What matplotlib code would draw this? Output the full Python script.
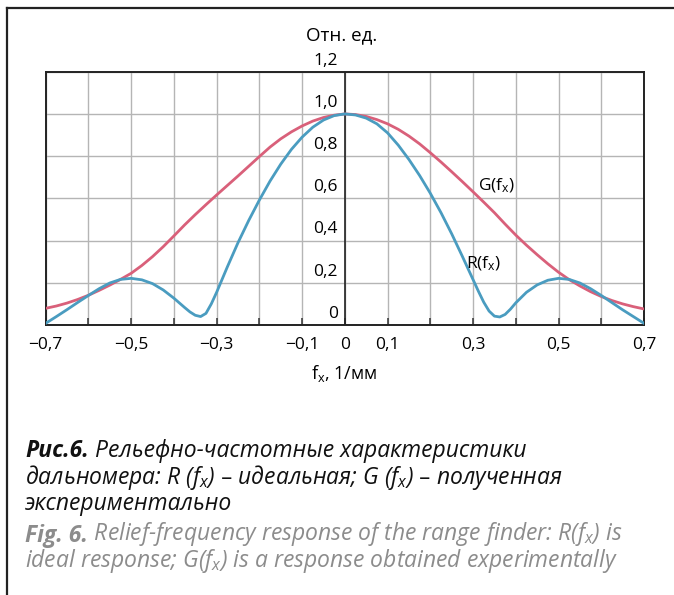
import numpy as np
import matplotlib
matplotlib.use("Agg")
import matplotlib.pyplot as plt
from matplotlib.lines import Line2D
from matplotlib.text import Annotation

plt.rcParams['font.family'] = ['Open Sans', 'DejaVu Sans']
plt.rcParams['mathtext.default'] = 'regular'

# ---- data ----
fx_G = [round(-0.7 + 0.025 * i, 4) for i in range(57)]
G = [0.079, 0.090, 0.104, 0.121, 0.141, 0.164, 0.189, 0.216, 0.245,
     0.282, 0.324, 0.371, 0.422, 0.474, 0.523, 0.570, 0.616, 0.661,
     0.706, 0.752, 0.798, 0.843, 0.882, 0.915, 0.943, 0.966, 0.983,
     0.994, 1.000,
     0.997, 0.988, 0.973, 0.953, 0.927, 0.895, 0.858, 0.816,
     0.772, 0.726, 0.679, 0.631, 0.582, 0.532, 0.478, 0.426, 0.378,
     0.333, 0.290, 0.250, 0.215, 0.185, 0.158, 0.135, 0.116, 0.100,
     0.087, 0.076]

fx_R = [-0.7, -0.675, -0.65, -0.625, -0.6, -0.575, -0.55, -0.525, -0.5,
        -0.475, -0.45, -0.425, -0.4, -0.3875, -0.375, -0.3625, -0.35, -0.3375,
        -0.325, -0.3125, -0.3, -0.275, -0.25, -0.225, -0.2, -0.175, -0.15,
        -0.125, -0.1, -0.075, -0.05, -0.025, 0.0,
        0.025, 0.05, 0.075, 0.1, 0.125, 0.15, 0.175, 0.2, 0.225, 0.25, 0.275,
        0.3, 0.3125, 0.325, 0.3375, 0.35, 0.3625, 0.375, 0.3875, 0.4, 0.425,
        0.45, 0.475, 0.5, 0.525, 0.55, 0.575, 0.6, 0.625, 0.65, 0.675, 0.7]
R = [0.008, 0.040, 0.073, 0.107, 0.140, 0.172, 0.199, 0.216, 0.221,
     0.214, 0.196, 0.166, 0.127, 0.105, 0.083, 0.062, 0.046, 0.040,
     0.055, 0.100, 0.155, 0.275, 0.390, 0.495, 0.592, 0.682, 0.762,
     0.832, 0.890, 0.937, 0.971, 0.992, 1.000,
     0.995, 0.980, 0.953, 0.910, 0.852, 0.784, 0.708, 0.624, 0.532, 0.432, 0.325,
     0.215, 0.160, 0.108, 0.066, 0.042, 0.038, 0.050, 0.075, 0.105, 0.155,
     0.190, 0.212, 0.221, 0.216, 0.199, 0.172, 0.140, 0.106, 0.072, 0.040, 0.008]

x_grid = [round(-0.7 + 0.1 * i, 1) for i in range(15)]
x_labels = {-0.7: '−0,7', -0.5: '−0,5', -0.3: '−0,3', -0.1: '−0,1', 0.0: '0',
            0.1: '0,1', 0.3: '0,3', 0.5: '0,5', 0.7: '0,7'}
y_ticks = [0, 0.2, 0.4, 0.6, 0.8, 1.0, 1.2]
y_labels = ['0', '0,2', '0,4', '0,6', '0,8', '1,0', '1,2']

W, H = 674, 595
fig = plt.figure(figsize=(W / 100, H / 100), dpi=100)
fig.patch.set_facecolor('white')

ax = fig.add_axes([45.7 / W, 1 - 325 / H, (644 - 45.7) / W, (325 - 71.7) / H])
ax.set_xlim(-0.7, 0.7)
ax.set_ylim(0, 1.2)
ax.set_xticks(x_grid)
ax.set_xticklabels([x_labels.get(v, '') for v in x_grid], fontsize=12.5)
ax.set_yticks(y_ticks)
ax.set_yticklabels([])
ax.tick_params(axis='x', direction='in', length=5, width=1.1, color='#333333', pad=9)
ax.tick_params(axis='y', length=0)
ax.grid(True, color='#b5b5b5', lw=1.0)
ax.set_axisbelow(True)
for s in ax.spines.values():
    s.set_color('#222222')
    s.set_linewidth(1.4)
ax.axvline(0, color='#222222', lw=1.2, zorder=1.5)

ax.plot(fx_G, G, color='#d9607a', lw=2.0, zorder=3, solid_joinstyle='round')
ax.plot(fx_R, R, color='#4a9cc0', lw=2.0, zorder=4, solid_joinstyle='round')

for v, lab in zip(y_ticks, y_labels):
    ax.annotate(lab, xy=(0, v), xytext=(-5, 8), textcoords='offset points',
                ha='right', va='center', fontsize=12.5, annotation_clip=False)

ax.text(0.311, 0.66, 'G(f$_x$)', fontsize=12.5, ha='left', va='center', zorder=5)
ax.text(0.283, 0.289, 'R(f$_x$)', fontsize=12.5, ha='left', va='center', zorder=5)

fig.text(341.5 / W, 1 - 35 / H, 'Отн. ед.', fontsize=13.5, ha='center', va='center')
fig.text(344 / W, 1 - 373 / H, 'f$_x$, 1/мм', fontsize=13, ha='center', va='center')

# outer frame (top + left)
fig.add_artist(Line2D([6.5 / W, 1.0], [1 - 7.5 / H, 1 - 7.5 / H], transform=fig.transFigure,
                      color='#222222', lw=1.6))
fig.add_artist(Line2D([6.5 / W, 6.5 / W], [1 - 7.5 / H, 0.0], transform=fig.transFigure,
                      color='#222222', lw=1.6))

# caption
cap_fs = 16.5
cx = 25 / W


def cap_line(y_base, bold_part, rest, color):
    if bold_part:
        t1 = fig.text(cx, 1 - y_base / H, bold_part, fontsize=cap_fs, fontweight='bold',
                      fontstyle='italic', color=color, va='baseline', ha='left')
        fig.add_artist(Annotation(rest, xy=(1, 0), xycoords=t1,
                                  fontsize=cap_fs, fontstyle='italic',
                                  color=color, va='bottom', ha='left'))
    else:
        fig.text(cx, 1 - y_base / H, rest, fontsize=cap_fs, fontstyle='italic',
                 color=color, va='baseline', ha='left')


cap_line(457, 'Рис.6.', ' Рельефно-частотные характеристики', '#111111')
cap_line(484, None, 'дальномера: R (f$_x$) – идеальная; G (f$_x$) – полученная', '#111111')
cap_line(510, None, 'экспериментально', '#111111')
cap_line(542, 'Fig. 6.', ' Relief-frequency response of the range finder: R(f$_x$) is', '#8c8c8c')
cap_line(567, None, 'ideal response; G(f$_x$) is a response obtained experimentally', '#8c8c8c')

fig.savefig('out.png', dpi=100, facecolor='white')
